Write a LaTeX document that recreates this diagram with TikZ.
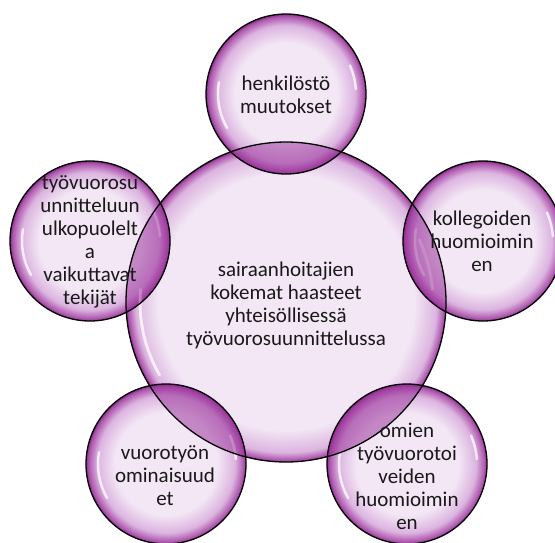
\documentclass[tikz,border=0pt]{standalone}
\usepackage{fontspec}
\setmainfont{Carlito}
\usetikzlibrary{calc}
\definecolor{bIn}{RGB}{243,231,245}
\definecolor{bMid}{RGB}{220,180,224}
\definecolor{bOut}{RGB}{172,84,172}
\definecolor{bEdge}{RGB}{135,45,135}
\definecolor{lensc}{RGB}{150,40,150}
\definecolor{txt}{RGB}{25,25,25}
\pgfdeclareradialshading{bubblesmall}{\pgfpoint{0bp}{0bp}}{color(0bp)=(bIn); color(16bp)=(bIn); color(21.5bp)=(bMid); color(24.3bp)=(bOut); color(25bp)=(bEdge); color(50bp)=(bEdge)}
\pgfdeclareradialshading{bubblebig}{\pgfpoint{0bp}{0bp}}{color(0bp)=(bIn); color(20bp)=(bIn); color(23.5bp)=(bMid); color(24.7bp)=(bOut); color(25bp)=(bEdge); color(50bp)=(bEdge)}
\tikzset{
  smallbub/.style={circle, minimum size=160pt, inner sep=0pt, shading=bubblesmall},
  bigbub/.style={circle, minimum size=320pt, inner sep=0pt, shading=bubblebig},
  rim/.style={draw=black, line width=1.3pt},
  lab/.style={align=center, text=txt, font=\fontsize{21}{23}\selectfont, inner sep=0pt},
  gloss/.style={white, opacity=0.75, line width=2.5pt, line cap=round}
}
\begin{document}
\begin{tikzpicture}[x=1pt,y=-1pt]
\useasboundingbox (0,0) rectangle (555,542);
\clip (0,0) rectangle (555,542);
% centres
\coordinate (pc) at (286,302);
\coordinate (p1) at (286,94);
\coordinate (p2) at (483,241);
\coordinate (p3) at (407,464);
\coordinate (p4) at (166,464);
\coordinate (p5) at (90,241);
% bubbles
\node[bigbub] (c0) at (pc) {};
\foreach \i in {1,...,5}{
  \node[smallbub] (c\i) at (p\i) {};
}
% gloss highlights
\foreach \i in {1,...,5}{
  \draw[gloss] ($(p\i)+(150:68)$) arc[start angle=150, end angle=190, radius=68];
  \draw[gloss] ($(p\i)+(-4:70)$) arc[start angle=-4, end angle=-24, radius=70];
}
\draw[gloss, line width=3pt] ($(pc)+(150:146)$) arc[start angle=150, end angle=185, radius=146];
\draw[gloss, line width=3pt] ($(pc)+(-5:147)$) arc[start angle=-5, end angle=-25, radius=147];
% overlaps
\foreach \i in {1,...,5}{
  \begin{scope}
    \clip (pc) circle[radius=160];
    \fill[lensc, opacity=0.5] (p\i) circle[radius=80];
  \end{scope}
}
% outlines
\draw[rim] (pc) circle[radius=160];
\foreach \i in {1,...,5}{
  \draw[rim] (p\i) circle[radius=80];
}
% texts
\node[lab] (t0) at (286,305) {sairaanhoitajien\\kokemat haasteet\\yhteisöllisessä\\työvuorosuunnittelussa};
\node[lab] (t1) at (286,95) {henkilöstö\\muutokset};
\node[lab] (t2) at (482,241) {kollegoiden\\huomioimin\\en};
\node[lab] (t3) at (407,476) {omien\\työvuorotoi\\veiden\\huomioimin\\en};
\node[lab] (t4) at (165,476) {vuorotyön\\ominaisuud\\et};
\node[lab] (t5) at (90,242) {työvuorosu\\unnitteluun\\ulkopuolelt\\a\\vaikuttavat\\tekijät};
\end{tikzpicture}
\end{document}
